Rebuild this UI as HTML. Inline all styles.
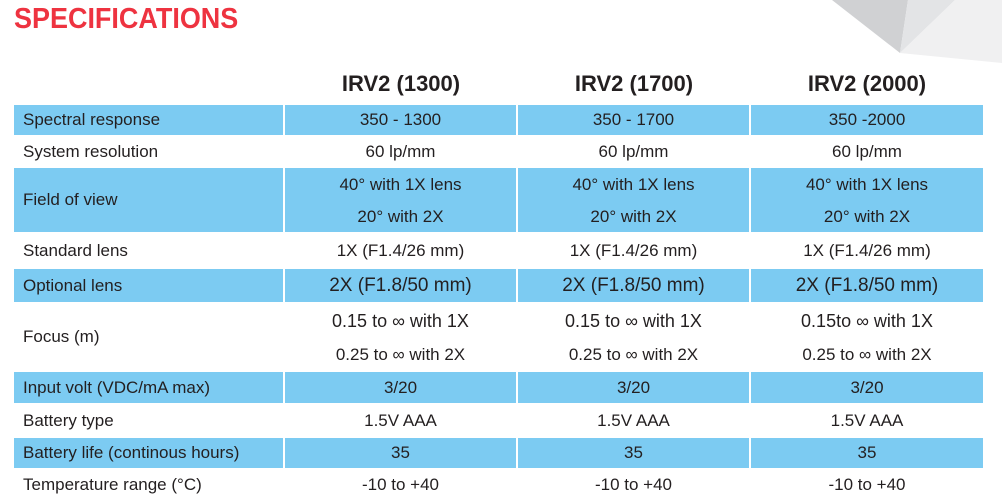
<!DOCTYPE html>
<html><head><meta charset="utf-8"><style>
body{margin:0;width:1002px;height:499px;background:#fff;position:relative;overflow:hidden;font-family:"Liberation Sans",sans-serif;color:#231f20}
.a{position:absolute}
.b{position:absolute;background:#7ccbf2}
.t{position:absolute;white-space:nowrap;font-size:17px;line-height:20px}
.c{text-align:center;width:232px}
.h{position:absolute;font-weight:bold;font-size:22px;text-align:center;width:232px;top:71px}
</style></head><body>
<svg class="a" style="left:0;top:0" width="1002" height="499">
<polygon points="832,0 908,0 900,53" fill="#d0d1d3"/>
<polygon points="908,0 955,0 900,53" fill="#e3e4e6"/>
<polygon points="955,0 1002,0 1002,63 900,53" fill="#f0f0f1"/>
</svg>
<div class="a" style="left:14px;top:3px;font-size:29px;font-weight:bold;color:#ee3340;transform:scaleX(0.93);transform-origin:left">SPECIFICATIONS</div>
<div class="h" style="left:285px">IRV2 (1300)</div>
<div class="h" style="left:518px">IRV2 (1700)</div>
<div class="h" style="left:751px">IRV2 (2000)</div>
<div id="tbl"></div>
<script>
var rows=[
["Spectral response",104,136,1,["350 - 1300","350 - 1700","350 -2000"]],
["System resolution",136,167,0,["60 lp/mm","60 lp/mm","60 lp/mm"]],
["Field of view",167,233,1,[["40° with 1X lens","20° with 2X"],["40° with 1X lens","20° with 2X"],["40° with 1X lens","20° with 2X"]]],
["Standard lens",233,268,0,["1X (F1.4/26 mm)","1X (F1.4/26 mm)","1X (F1.4/26 mm)"]],
["Optional lens",268,303,1,["2X (F1.8/50 mm)","2X (F1.8/50 mm)","2X (F1.8/50 mm)"]],
["Focus (m)",303,371,0,[["0.15 to ∞ with 1X","0.25 to ∞ with 2X"],["0.15 to ∞ with 1X","0.25 to ∞ with 2X"],["0.15to ∞ with 1X","0.25 to ∞ with 2X"]]],
["Input volt (VDC/mA max)",371,404,1,["3/20","3/20","3/20"]],
["Battery type",404,437,0,["1.5V AAA","1.5V AAA","1.5V AAA"]],
["Battery life (continous hours)",437,469,1,["35","35","35"]],
["Temperature range (°C)",469,501,0,["-10 to +40","-10 to +40","-10 to +40"]]
];
var cols=[[14,269],[285,231],[518,231],[751,232]];
var tb=document.getElementById('tbl');
rows.forEach(function(r,i){
  var y0=r[1],y1=r[2],h=y1-y0;
  cols.forEach(function(c,j){
    if(r[3]){var b=document.createElement('div');b.className='b';
      
      
      b.style.left=c[0]+'px';b.style.top=(y0+1)+'px';b.style.width=c[1]+'px';b.style.height=(h-2)+'px';tb.appendChild(b);}
    var v=j==0?r[0]:r[4][j-1];
    var lines=Array.isArray(v)?v:[v];
    lines.forEach(function(s,k){
      var t=document.createElement('div');t.className='t'+(j?' c':'');
      
      
      t.textContent=s;
      var cy=lines.length==1?(y0+h/2):(y0+h*(k==0?0.27:0.76));
      t.style.top=(cy-10)+'px';
      if(j){t.style.left=c[0]+'px';t.style.width=c[1]+'px';}else{t.style.left='23px';}
      if(i==4&&j)t.style.fontSize='19px';
      if(i==5&&j&&k==0)t.style.fontSize='18px';
      tb.appendChild(t);
    });
  });
});
</script>
</body></html>
